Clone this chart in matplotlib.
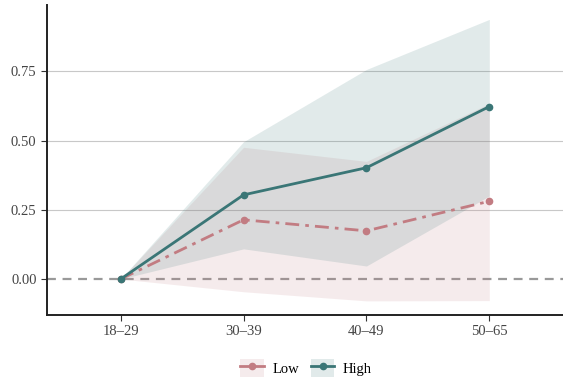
import matplotlib
matplotlib.use("Agg")
import matplotlib.pyplot as plt
from matplotlib.patches import Patch
from matplotlib.lines import Line2D

plt.rcParams['font.family'] = ['Liberation Serif', 'DejaVu Serif']

groupes = ['18\u201329', '30\u201339', '40\u201349', '50\u201365']
x = list(range(len(groupes)))

high = [0, 0.304, 0.402, 0.623]
high_bas = [0, 0.109, 0.047, 0.300]
high_haut = [0, 0.496, 0.757, 0.938]

low = [0, 0.214, 0.174, 0.281]
low_bas = [0, -0.046, -0.079, -0.078]
low_haut = [0, 0.476, 0.425, 0.634]

c_low = '#c27c82'
c_high = '#3a7676'
lw = 2.0
ms = 4.5

fig = plt.figure(figsize=(5.63, 3.84), dpi=100)
ax = fig.add_axes([47/563, 1 - 315/384, 516/563, 310/384])

# grille horizontale
for y in [0.25, 0.5, 0.75]:
    ax.axhline(y, color='#c8c8c8', linewidth=0.8, zorder=0)
ax.axhline(0, color='#999999', linewidth=1.6, linestyle=(0, (4, 3)), zorder=1)

ax.fill_between(x, low_bas, low_haut, color=c_low, alpha=0.15, linewidth=0, zorder=2)
ax.fill_between(x, high_bas, high_haut, color=c_high, alpha=0.15, linewidth=0, zorder=2)

ax.plot(x, low, color=c_low, linewidth=lw, linestyle=(0, (5, 2.2, 1.3, 2.2)),
        marker='o', markersize=ms, zorder=3)
ax.plot(x, high, color=c_high, linewidth=lw, marker='o', markersize=ms, zorder=4)

ax.set_xlim(-0.6, 3.6)
ax.set_ylim(-0.13, 0.99)
ax.set_xticks(x)
ax.set_xticklabels(groupes)
ax.set_yticks([0, 0.25, 0.5, 0.75])
ax.set_yticklabels(['0.00', '0.25', '0.50', '0.75'])
ax.tick_params(labelsize=10.5, colors='#333333', length=4, width=0.8, labelcolor='#444444')

for s in ['top', 'right']:
    ax.spines[s].set_visible(False)
for s in ['left', 'bottom']:
    ax.spines[s].set_linewidth(1.4)
    ax.spines[s].set_color('#222222')

h_low = (Patch(facecolor=c_low, alpha=0.15, edgecolor='none'),
         Line2D([], [], color=c_low, linewidth=lw, marker='o', markersize=ms))
h_high = (Patch(facecolor=c_high, alpha=0.15, edgecolor='none'),
          Line2D([], [], color=c_high, linewidth=lw, marker='o', markersize=ms))
fig.legend([h_low, h_high], ['Low', 'High'], loc='center', ncol=2,
           bbox_to_anchor=(0.544, 1 - 368/384), frameon=False, fontsize=10.5,
           handlelength=1.6, handleheight=1.6, columnspacing=0.8, handletextpad=0.6)

fig.savefig('out.png', dpi=100)
